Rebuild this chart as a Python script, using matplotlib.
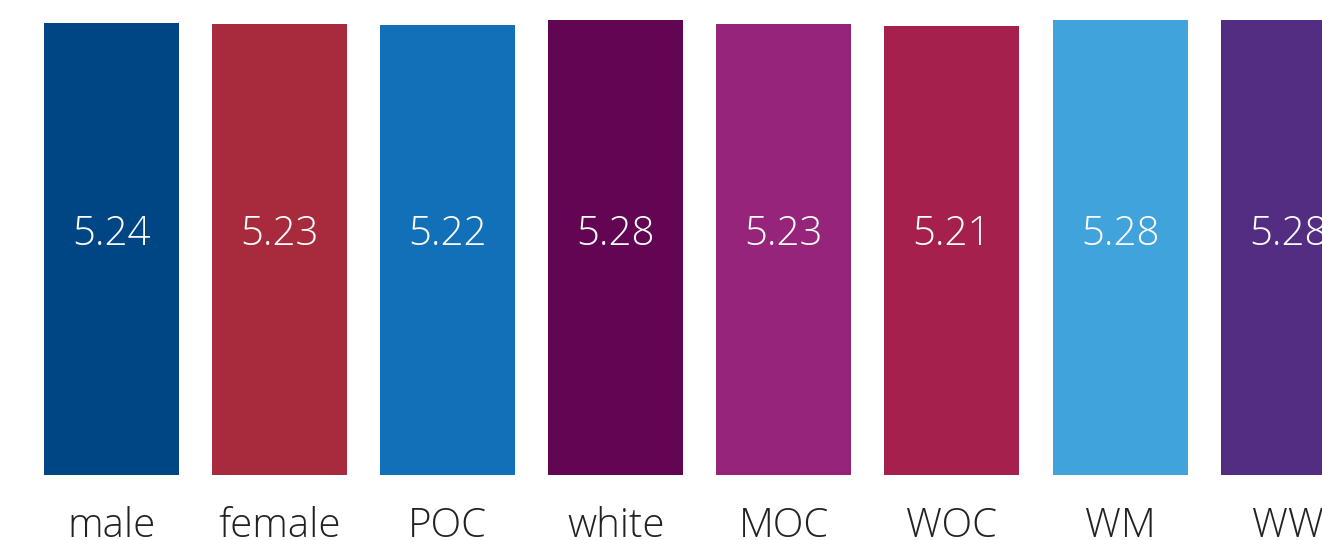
import matplotlib.pyplot as plt

# categories and mean scores
groups = ["male", "female", "POC", "white", "MOC", "WOC", "WM", "WW"]
scores = [5.24, 5.23, 5.22, 5.28, 5.23, 5.21, 5.28, 5.28]
bar_colors = ["#004684", "#A72B3C", "#1170B8", "#620552",
              "#95247A", "#A5204D", "#41A3DC", "#532D82"]

plt.rcParams['font.family'] = ['Open Sans', 'DejaVu Sans']

fig = plt.figure(figsize=(13.22, 5.4), dpi=100)
ax = fig.add_axes([0, 0.1204, 1, 0.8796])

x = list(range(len(groups)))
ax.bar(x, scores, width=0.803, color=bar_colors)

# value labels inside the bars
for xi, v in zip(x, scores):
    ax.text(xi, 2.67, f"{v:.2f}", ha='center', va='baseline',
            color='white', fontsize=29, fontweight='light')

# category labels under the bars
for xi, g in zip(x, groups):
    ax.text(xi, -0.72, g, ha='center', va='baseline', color='#222222',
            fontsize=29, fontweight='light', clip_on=False)

ax.set_xlim(-0.663, 7.201)
ax.set_ylim(0, 5.512)
ax.axis('off')

fig.savefig("out.png", dpi=100)
